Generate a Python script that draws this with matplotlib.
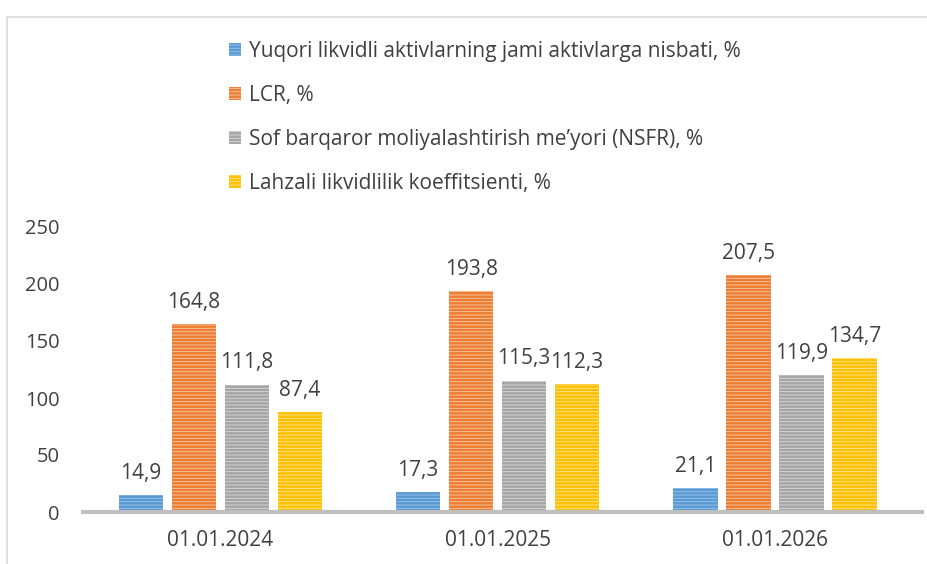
import matplotlib.pyplot as plt
import matplotlib as mpl
from matplotlib.patches import Rectangle
import numpy as np

mpl.rcParams["font.family"] = ["Open Sans", "DejaVu Sans"]
mpl.rcParams["hatch.linewidth"] = 0.6

# data
dates = ["01.01.2024", "01.01.2025", "01.01.2026"]
series_names = ["Yuqori likvidli aktivlarning jami aktivlarga nisbati, %",
                "LCR, %",
                "Sof barqaror moliyalashtirish me\u2019yori (NSFR), %",
                "Lahzali likvidlilik koeffitsienti, %"]
hla = [14.9, 17.3, 21.1]
lcr = [164.8, 193.8, 207.5]
nsfr = [111.8, 115.3, 119.9]
lahzali = [87.4, 112.3, 134.7]

colors = ["#5B9BD5", "#ED7D31", "#A5A5A5", "#FFC000"]
stripes = ["#9DC3E6", "#F8CBAD", "#DBDBDB", "#FFE699"]

fig = plt.figure(figsize=(9.28, 5.64), dpi=100)
# thin frame line like the pasted chart box
fig.patches.append(Rectangle((7/928, -0.1), 1.2, (564-17)/564 + 0.1, transform=fig.transFigure,
                             fill=False, edgecolor="#D9D9D9", linewidth=1.2))
ax = fig.add_axes([83/928, 52/564, (922-83)/928, (512-227)/564])

x = np.arange(len(dates))
step = 0.191
width = 0.159
vals = [hla, lcr, nsfr, lahzali]
for i, v in enumerate(vals):
    pos = x + (i - 1.5) * step
    bars = ax.bar(pos, v, width, color=colors[i], edgecolor=stripes[i], linewidth=0,
                  hatch="-----", label=series_names[i])
    for xb, yb in zip(pos, v):
        ax.annotate(("%.1f" % yb).replace(".", ","), (xb, yb), xytext=(0, 8),
                    textcoords="offset points", ha="center", va="bottom",
                    fontsize=15, color="#404040")

ax.set_ylim(0, 250)
ax.set_xlim(-0.495, 2.53)
ax.set_yticks([0, 50, 100, 150, 200, 250])
ax.set_xticks(x)
ax.set_xticklabels(dates)
ax.tick_params(axis="y", length=0, pad=17, labelsize=14.5, labelcolor="#404040")
ax.tick_params(axis="x", length=0, pad=13, labelsize=15, labelcolor="#404040")
for s in ["top", "right", "left"]:
    ax.spines[s].set_visible(False)
ax.spines["bottom"].set_color("#BFBFBF")
ax.spines["bottom"].set_linewidth(3)

leg = fig.legend(loc="upper left", bbox_to_anchor=(210/928, 1 - 22/564), frameon=False,
                 fontsize=15, labelcolor="#404040", handlelength=0.6, handleheight=0.6,
                 handletextpad=0.35, labelspacing=1.1)

fig.savefig("out.png", dpi=100)
